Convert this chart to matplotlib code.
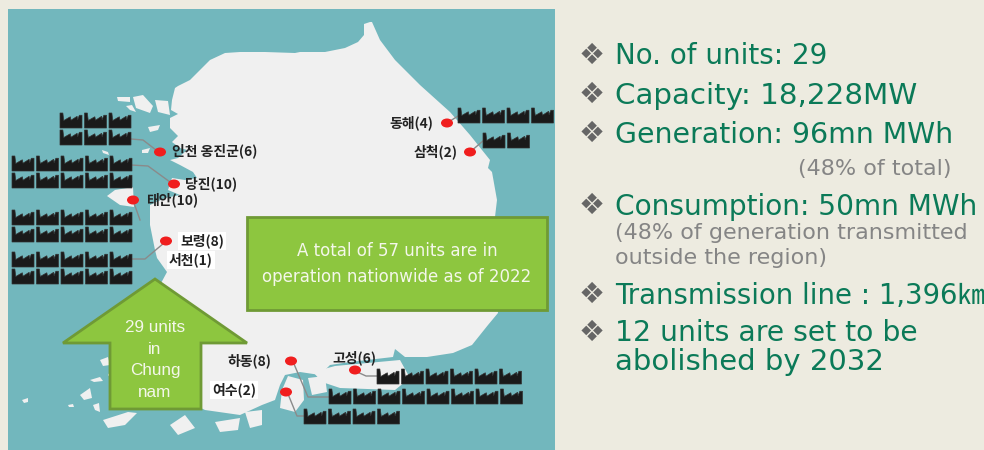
import matplotlib.pyplot as plt
from matplotlib.patches import Ellipse, Polygon, Rectangle

BG = "#EDEBE0"
SEA = "#72B7BD"
LAND = "#F0F0F0"
GREEN = "#8DC63F"
GREEN_EDGE = "#6F9A35"
TEXT_GREEN = "#0B7A58"
TEXT_GRAY = "#858585"
ICON = "#1A1A1A"

# plants: label, number of units
plant_names = ["인천 옹진군", "당진", "태안", "보령", "서천", "동해", "삼척", "하동", "여수", "고성"]
plant_units = [6, 10, 10, 8, 1, 4, 2, 8, 2, 6]

# factory icons per row, west coast then east then south
icon_counts = [3, 3, 5, 5, 5, 5, 5, 5, 4, 2, 6, 8, 4]

bullet_lines = [
    "No. of units: 29",
    "Capacity: 18,228MW",
    "Generation: 96mn MWh",
    "Consumption: 50mn MWh",
    "Transmission line : 1,396㎞",
    "12 units are set to be",
    "abolished by 2032",
]
note_lines = ["(48% of total)", "(48% of generation transmitted", "outside the region)"]
box_text = "A total of 57 units are in\noperation nationwide as of 2022"
arrow_text = "29 units\nin\nChung\nnam"

mainland = [
    (370, 22), (364, 24), (364, 35), (358, 42), (345, 48), (325, 52), (300, 52), (295, 53),
    (265, 52), (240, 52), (225, 53), (210, 60), (200, 70), (190, 80), (178, 86), (175, 88),
    (172, 100), (171, 110), (178, 114), (170, 118), (170, 128), (178, 136), (172, 142),
    (180, 148), (187, 150), (178, 158), (170, 160), (180, 165), (193, 172), (197, 178),
    (185, 180), (172, 178), (168, 190), (180, 195), (165, 198), (150, 205), (150, 225),
    (155, 250), (157, 258), (167, 272), (160, 285), (170, 290), (150, 310), (115, 345),
    (120, 355), (108, 375), (125, 395), (150, 405), (175, 395), (205, 410), (240, 415),
    (262, 405), (275, 400), (280, 385), (285, 375), (300, 372), (320, 375), (330, 365),
    (350, 362), (393, 357), (395, 349), (405, 357), (427, 357), (453, 353), (472, 345),
    (480, 335), (488, 325), (498, 313), (497, 300), (495, 217), (497, 200), (492, 172),
    (488, 168), (490, 160), (470, 135), (450, 112), (420, 85), (395, 60), (380, 40), (372, 22),
]
islands = [
    [(117, 97), (130, 97), (130, 102), (118, 101)],
    [(133, 97), (143, 95), (153, 106), (150, 113), (136, 108)],
    [(155, 100), (168, 101), (170, 115), (158, 112)],
    [(126, 106), (132, 105), (136, 112), (130, 110)],
    [(148, 127), (160, 125), (158, 130), (150, 132)],
    [(102, 150), (108, 152), (109, 155), (103, 153)],
    [(142, 150), (150, 148), (148, 153), (142, 153)],
    [(107, 196), (115, 190), (133, 187), (134, 207), (120, 205)],
    [(313, 372), (335, 366), (400, 360), (410, 378), (395, 390), (340, 388), (322, 382)],
    [(288, 376), (303, 380), (304, 400), (295, 412), (280, 408), (282, 390)],
    [(308, 378), (325, 376), (327, 392), (312, 395)],
    [(103, 420), (128, 412), (137, 413), (125, 425), (108, 428)],
    [(80, 395), (90, 388), (92, 398), (84, 400)],
    [(90, 380), (100, 377), (103, 381), (94, 382)],
    [(93, 405), (99, 403), (100, 412), (95, 410)],
    [(100, 360), (108, 357), (110, 365), (103, 366)],
    [(22, 400), (28, 398), (28, 402), (24, 403)],
    [(68, 405), (73, 404), (74, 407), (69, 407)],
    [(170, 425), (185, 415), (195, 428), (178, 435)],
    [(215, 422), (240, 418), (238, 430), (220, 432)],
    [(245, 412), (262, 410), (262, 425), (250, 428)],
]
markers = [(160, 152), (174, 184), (133, 200), (166, 241), (447, 123), (470, 152), (291, 361), (286, 392), (355, 370)]
leaders = [
    [(131, 139), (143, 140), (156, 150)],
    [(131, 165), (148, 166), (170, 182)],
    [(134, 203), (140, 220)],
    [(131, 259), (145, 259), (164, 243)],
    [(447, 123), (458, 116)],
    [(470, 152), (483, 141)],
    [(294, 364), (308, 397), (329, 397)],
    [(288, 394), (297, 416), (304, 416)],
    [(355, 371), (366, 376), (377, 376)],
]


def factory(ax, x, y, w=22, h=15):
    shape = [(0, 1), (0, 0), (.13, 0), (.17, .5), (.47, .25), (.5, .48), (.78, .22), (.8, .45),
             (.88, .15), (1, .15), (1, 1)]
    ax.add_patch(Polygon([(x + px * w, y + py * h) for px, py in shape], fc=ICON, ec="#333333", lw=.5, zorder=3))


def icon_row(ax, x, y, count):
    for i in range(count):
        factory(ax, x + i * 24.5, y)


def label(ax, x, y, i, ha="left", box=False):
    bbox = dict(fc="white", ec="none", pad=1.5) if box else None
    ax.text(x, y, f"{plant_names[i]}({plant_units[i]})", ha=ha, va="center", fontsize=10, weight="bold",
            color="#222222", family=["Noto Sans CJK KR", "DejaVu Sans"], bbox=bbox, zorder=4)


fig = plt.figure(figsize=(9.84, 4.5), dpi=100, facecolor=BG)
ax = fig.add_axes([0, 0, 1, 1])
ax.set_xlim(0, 984)
ax.set_ylim(450, 0)
ax.axis("off")

ax.add_patch(Rectangle((8, 9), 547, 441, fc=SEA, ec="none"))
ax.add_patch(Polygon(mainland, fc=LAND, ec="none", zorder=1))
for isl in islands:
    ax.add_patch(Polygon(isl, fc=LAND, ec="none", zorder=1))

for line in leaders:
    ax.plot([p[0] for p in line], [p[1] for p in line], color="#8a8a8a", lw=1, zorder=2)

# icon rows in the same order as icon_counts
row_starts = [(60, 113), (60, 130), (12, 156), (12, 173), (12, 210), (12, 227), (12, 252), (12, 269),
              (458, 108), (483, 133), (377, 369), (329, 389), (304, 409)]
for (x, y), n in zip(row_starts, icon_counts):
    icon_row(ax, x, y, n)

for mx, my in markers:
    ax.add_patch(Ellipse((mx, my), 12, 9, fc="#F01E1E", ec="none", zorder=4))

label(ax, 172, 151, 0)
label(ax, 185, 184, 1)
label(ax, 146, 200, 2)
label(ax, 180, 241, 3, box=True)
label(ax, 169, 260, 4, box=True)
label(ax, 433, 123, 5, ha="right")
label(ax, 458, 152, 6, ha="right")
label(ax, 227, 361, 7)
label(ax, 212, 390, 8, box=True)
label(ax, 332, 358, 9)

# green call-outs
ax.add_patch(Rectangle((247, 217), 300, 93, fc=GREEN, ec=GREEN_EDGE, lw=2, zorder=5))
ax.text(397, 264, box_text, ha="center", va="center", color="#F4F7EA", fontsize=12,
        family="DejaVu Sans", linespacing=1.5, zorder=6)
arrow = [(155, 279), (247, 343), (201, 343), (201, 409), (110, 409), (110, 343), (63, 343)]
ax.add_patch(Polygon(arrow, fc=GREEN, ec=GREEN_EDGE, lw=2, zorder=5))
ax.text(155, 360, arrow_text, ha="center", va="center", color="#F4F7EA", fontsize=12.3,
        family="Liberation Sans", linespacing=1.55, zorder=6)

# right hand list
bullet_y = [56, 95, 134, 206, 295, 333]
for y in bullet_y:
    ax.text(592, y, "❖", ha="center", va="center", color="#666666", fontsize=21, family="DejaVu Sans")
line_base = [64, 104, 143, 215, 304, 341, 370]
line_size = [20, 21.2, 20.4, 20.2, 19.8, 20.3, 21]
for text, y, size in zip(bullet_lines, line_base, line_size):
    ax.text(615, y, text, ha="left", va="baseline", color=TEXT_GREEN, fontsize=size,
            family=["DejaVu Sans", "Noto Sans CJK KR"])
ax.text(952, 175, note_lines[0], ha="right", va="baseline", color=TEXT_GRAY, fontsize=16, family="DejaVu Sans")
ax.text(615, 239, note_lines[1], ha="left", va="baseline", color=TEXT_GRAY, fontsize=16, family="DejaVu Sans")
ax.text(615, 264, note_lines[2], ha="left", va="baseline", color=TEXT_GRAY, fontsize=16, family="DejaVu Sans")

fig.savefig("out.png", dpi=100, facecolor=BG)
